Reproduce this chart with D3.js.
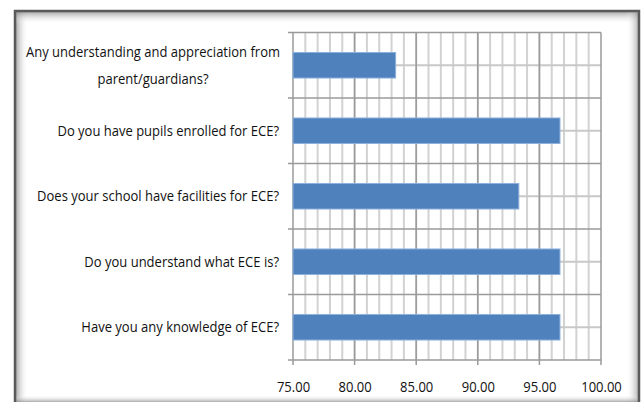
<!DOCTYPE html>
<html>
<head>
<meta charset="utf-8">
<script src="https://cdn.jsdelivr.net/npm/d3@7"></script>
<style>
  body { margin: 0; background: #fff; }
  svg { display: block; }
  text { font-family: "Open Sans", sans-serif; fill: #111; }
</style>
</head>
<body>
<svg id="chart" width="641" height="402"></svg>
<script>
// questions, top to bottom
var questions = [
    ["Any understanding and appreciation from", "parent/guardians?"],
    ["Do you have pupils enrolled for ECE?"],
    ["Does your school have facilities for ECE?"],
    ["Do you understand what ECE is?"],
    ["Have you any knowledge of ECE?"]
];
var percents = [83.33, 96.67, 93.33, 96.67, 96.67];
var xTicks = [75, 80, 85, 90, 95, 100];

var svg = d3.select("#chart");
var defs = svg.append("defs");
var squeeze = 0.868; // narrow the font a bit, like Calibri

// frame with soft shadow edges
function grad(id, x1, y1, x2, y2) {
    var g = defs.append("linearGradient").attr("id", id)
        .attr("x1", x1).attr("y1", y1).attr("x2", x2).attr("y2", y2);
    g.append("stop").attr("offset", "0").attr("stop-color", "#888").attr("stop-opacity", 0.7);
    g.append("stop").attr("offset", "1").attr("stop-color", "#fff").attr("stop-opacity", 0);
}
grad("gl", 0, 0, 1, 0);
grad("gt", 0, 0, 0, 1);
grad("gr", 1, 0, 0, 0);
grad("gb", 0, 1, 0, 0);

svg.append("rect").attr("x", 15).attr("y", 11).attr("width", 624).attr("height", 390).attr("fill", "#fff");
svg.append("rect").attr("x", 16).attr("y", 12).attr("width", 12).attr("height", 390).attr("fill", "url(#gl)");
svg.append("rect").attr("x", 16).attr("y", 12).attr("width", 622).attr("height", 12).attr("fill", "url(#gt)");
svg.append("rect").attr("x", 626).attr("y", 12).attr("width", 13).attr("height", 390).attr("fill", "url(#gr)");
svg.append("rect").attr("x", 16).attr("y", 395).attr("width", 622).attr("height", 7).attr("fill", "url(#gb)");
svg.append("path").attr("d", "M15,402V11H639V402").attr("fill", "none").attr("stroke", "#5a5a5a").attr("stroke-width", 2.5);

var plotLeft = 293, plotRight = 601, plotTop = 32.5, plotBottom = 360;

var x = d3.scaleLinear().domain([75, 100]).range([plotLeft, plotRight]);
var y = d3.scaleBand().domain(d3.range(questions.length)).range([plotTop, plotBottom]).paddingInner(0.61).paddingOuter(0.305);
var band = d3.scaleBand().domain(d3.range(questions.length)).range([plotTop, plotBottom]);

var g = svg.append("g");

// minor vertical grid
g.selectAll(".vminor").data(d3.range(76, 100)).enter().append("line")
    .attr("x1", function (d) { return x(d); }).attr("x2", function (d) { return x(d); })
    .attr("y1", plotTop).attr("y2", plotBottom)
    .attr("stroke", "#d2d2d2").attr("stroke-width", 2);

// horizontal lines through band centres
g.selectAll(".hminor").data(d3.range(questions.length)).enter().append("line")
    .attr("x1", plotLeft).attr("x2", plotRight)
    .attr("y1", function (d) { return band(d) + band.bandwidth() / 2; })
    .attr("y2", function (d) { return band(d) + band.bandwidth() / 2; })
    .attr("stroke", "#c8c8c8").attr("stroke-width", 2);

// major vertical grid
g.selectAll(".vmajor").data(xTicks).enter().append("line")
    .attr("x1", function (d) { return x(d); }).attr("x2", function (d) { return x(d); })
    .attr("y1", plotTop).attr("y2", plotBottom + 5)
    .attr("stroke", "#9a9a9a").attr("stroke-width", 1.5);

// band boundaries
g.selectAll(".hmajor").data(d3.range(questions.length + 1)).enter().append("line")
    .attr("x1", plotLeft - 5).attr("x2", plotRight)
    .attr("y1", function (d) { return plotTop + d * band.bandwidth(); })
    .attr("y2", function (d) { return plotTop + d * band.bandwidth(); })
    .attr("stroke", "#9a9a9a").attr("stroke-width", 1.5);

// bars
g.selectAll(".bar").data(percents).enter().append("rect").attr("class", "bar")
    .attr("x", x(75))
    .attr("y", function (d, i) { return y(i); })
    .attr("width", function (d) { return x(d) - x(75); })
    .attr("height", y.bandwidth())
    .attr("fill", "#4f81bd").attr("stroke", "#8db0dc").attr("stroke-width", 1);

// x axis labels
svg.append("g").attr("transform", "translate(0," + (plotBottom + 29) + ")")
    .call(d3.axisBottom(x).tickValues(xTicks).tickSize(0).tickFormat(d3.format(".2f")))
    .call(function (a) { a.select(".domain").remove(); })
    .selectAll("text").attr("font-size", 15).attr("dy", 0)
    .attr("transform", "scale(" + squeeze + ",1)")
    .style("font-family", '"Open Sans", sans-serif').attr("fill", "#111");

// category labels
questions.forEach(function (lines, i) {
    var cy = band(i) + band.bandwidth() / 2;
    var ax = lines.length > 1 ? 153 : 279;
    var t = svg.append("text").attr("font-size", 15)
        .attr("text-anchor", lines.length > 1 ? "middle" : "end")
        .attr("transform", "translate(" + ax + ",0) scale(" + squeeze + ",1)");
    lines.forEach(function (s, k) {
        t.append("tspan").attr("x", 0)
            .attr("y", cy + 5 + (k - (lines.length - 1) / 2) * 27)
            .text(s);
    });
});
</script>
</body>
</html>
